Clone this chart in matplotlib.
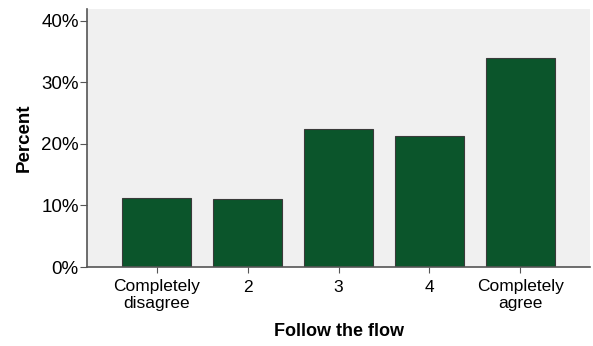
import numpy as np
import matplotlib.pyplot as plt
from matplotlib.ticker import PercentFormatter

categories = ['Completely\ndisagree', '2', '3', '4', 'Completely\nagree']
percent = [11.2, 11.05, 22.4, 21.35, 34.0]
yticks = [0, 10, 20, 30, 40]

plt.rcParams['font.family'] = ['Liberation Sans', 'DejaVu Sans']

fig = plt.figure(figsize=(5.93, 3.46), dpi=100)
ax = fig.add_axes([87 / 593, 1 - 267 / 346, (590 - 87) / 593, (267 - 9) / 346])
ax.set_facecolor('#f0f0f0')

x = np.arange(len(categories))
ax.bar(x, percent, width=0.76, color='#0b552b', edgecolor='#3a3a3a', linewidth=0.8)

ax.set_xlim(-0.77, 4.77)
ax.set_ylim(0, 41.95)
ax.set_yticks(yticks)
ax.yaxis.set_major_formatter(PercentFormatter(decimals=0))
ax.set_xticks(x)
ax.set_xticklabels(categories, fontsize=12.5, linespacing=1.1)
ax.tick_params(axis='y', labelsize=13.5, length=5, color='#555555', pad=1)
ax.tick_params(axis='x', length=4, color='#555555', pad=5)

for s in ['top', 'right']:
    ax.spines[s].set_visible(False)
for s in ['left', 'bottom']:
    ax.spines[s].set_color('#555555')
    ax.spines[s].set_linewidth(1.2)

ax.set_xlabel('Follow the flow', fontsize=13, fontweight='bold', labelpad=9)
ax.set_ylabel('Percent', fontsize=13.5, fontweight='bold', labelpad=6)

fig.savefig('out.png', dpi=100)
